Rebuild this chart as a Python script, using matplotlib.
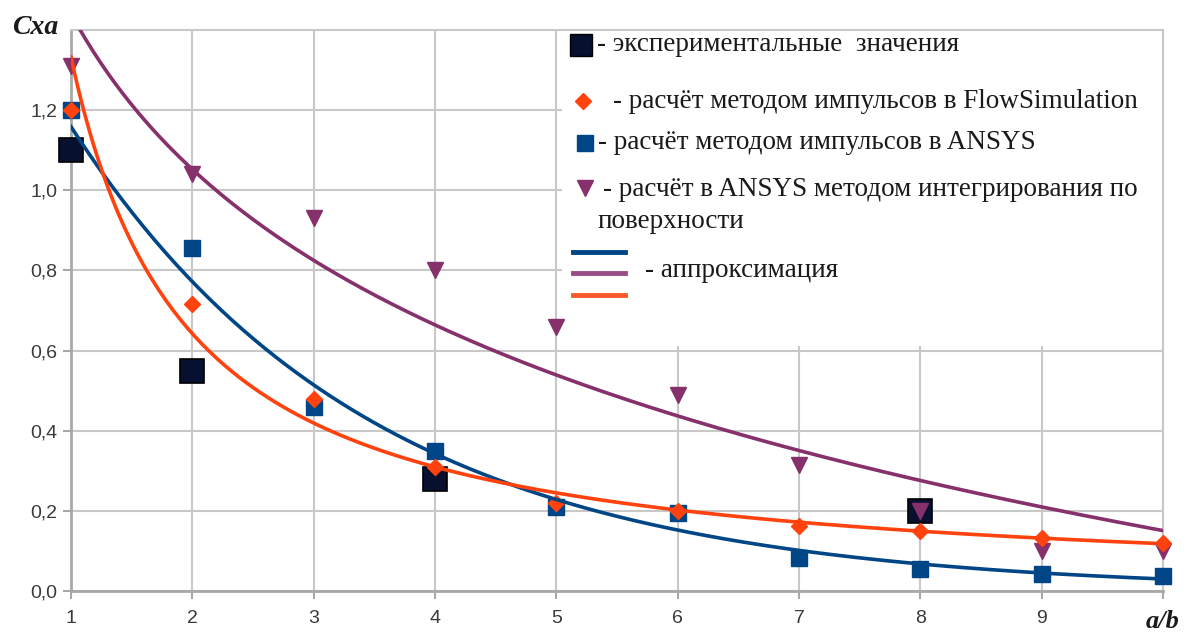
import numpy as np
import matplotlib.pyplot as plt
from matplotlib.patches import Rectangle

# a/b values
x_all = [1, 2, 3, 4, 5, 6, 7, 8, 9, 10]

# experimental values (only measured at a few a/b)
x_exp = [1, 2, 4, 8]
cx_exp = [1.10, 0.55, 0.28, 0.20]

# momentum method in FlowSimulation
cx_flow = [1.20, 0.715, 0.48, 0.31, 0.22, 0.20, 0.163, 0.15, 0.133, 0.12]

# momentum method in ANSYS
cx_ansys = [1.20, 0.855, 0.46, 0.35, 0.21, 0.195, 0.083, 0.055, 0.043, 0.038]

# ANSYS, surface integration
cx_surf = [1.31, 1.04, 0.93, 0.80, 0.66, 0.49, 0.315, 0.20, 0.10, 0.10]

y_ticks = [0.0, 0.2, 0.4, 0.6, 0.8, 1.0, 1.2]
y_tick_labels = ['0,0', '0,2', '0,4', '0,6', '0,8', '1,0', '1,2']
x_tick_labels = ['1', '2', '3', '4', '5', '6', '7', '8', '9', 'a/b']

c_blue = '#004586'
c_orange = '#ff420e'
c_purple = '#86306c'

plt.rcParams['font.family'] = ['Liberation Sans', 'DejaVu Sans']

fig = plt.figure(figsize=(11.88, 6.33), dpi=100)
ax = fig.add_axes([71 / 1188, 42 / 633, 1092 / 1188, 561 / 633])

# approximation curves (regression on the data, like the spreadsheet trend lines)
xa = np.array(x_all, dtype=float)
xs = np.linspace(1, 10, 300)
kb = np.polyfit(xa, np.log(cx_ansys), 1)
ko = np.polyfit(np.log(xa), np.log(cx_flow), 1)
kp = np.polyfit(np.log(xa), cx_surf, 1)

ax.plot(x_exp, cx_exp, ls='none', marker='s', ms=17, mfc='#07102e', mec='#000000', mew=1.2, zorder=3, clip_on=False)
ax.plot(x_all, cx_ansys, ls='none', marker='s', ms=11.5, color=c_blue, zorder=4, clip_on=False)
ax.plot(x_all, cx_surf, ls='none', marker='v', ms=11, color=c_purple, zorder=5, clip_on=False)
ax.plot(x_all, cx_flow, ls='none', marker='D', ms=8.5, color=c_orange, zorder=6, clip_on=False)

ax.plot(xs, np.exp(np.polyval(kb, xs)), color=c_blue, lw=2.6, zorder=7)
ax.plot(xs, np.polyval(kp, np.log(xs)), color=c_purple, lw=2.6, zorder=7)
ax.plot(xs, np.exp(np.polyval(ko, np.log(xs))), color=c_orange, lw=2.6, zorder=7)

ax.set_xlim(1, 10)
ax.set_ylim(0, 1.4)
ax.set_xticks(x_all)
ax.set_xticklabels(x_tick_labels)
ax.set_yticks(y_ticks)
ax.set_yticklabels(y_tick_labels)
ax.tick_params(labelsize=14, labelcolor='#3a3a3a', color='#a8a8a8', length=6, width=1.5)
ax.tick_params(axis='x', pad=8)
ax.tick_params(axis='y', pad=4)
lab = ax.get_xticklabels()[-1]
lab.set_fontfamily('Liberation Serif')
lab.set_fontweight('bold')
lab.set_fontstyle('italic')
lab.set_fontsize(19)
lab.set_color('#1a1a1a')

ax.set_axisbelow(True)
ax.grid(True, color='#c8c8c8', lw=1.5)
for s in ['left', 'bottom']:
    ax.spines[s].set_color('#a8a8a8')
    ax.spines[s].set_linewidth(2)
for s in ['top', 'right']:
    ax.spines[s].set_color('#c8c8c8')
    ax.spines[s].set_linewidth(1.5)

fig.text(12 / 1188, 1 - 28 / 633, 'Cxa', family='Liberation Serif', weight='bold', style='italic',
         fontsize=20, va='center', ha='left', color='#1a1a1a')

# legend panel (white box over the grid)
ax.add_patch(Rectangle((0.4497, 0.437), 0.549, 0.562, transform=ax.transAxes,
                       facecolor='white', edgecolor='none', zorder=1))

tk = dict(transform=ax.transAxes, family='Liberation Serif', fontsize=19.5, color='#1a1a1a',
          va='center', ha='left', zorder=8)
ax.plot([0.467], [0.973], transform=ax.transAxes, marker='s', ms=16, mfc='#07102e', mec='#000000', clip_on=False, zorder=8)
ax.text(0.482, 0.975, '- экспериментальные  значения', **tk)
ax.plot([0.469], [0.873], transform=ax.transAxes, marker='D', ms=8, color=c_orange, clip_on=False, zorder=8)
ax.text(0.496, 0.873, '- расчёт методом импульсов в FlowSimulation', **tk)
ax.plot([0.471], [0.799], transform=ax.transAxes, marker='s', ms=11, color=c_blue, clip_on=False, zorder=8)
ax.text(0.483, 0.800, '- расчёт методом импульсов в ANSYS', **tk)
ax.plot([0.471], [0.718], transform=ax.transAxes, marker='v', ms=11, color=c_purple, clip_on=False, zorder=8)
ax.text(0.487, 0.716, '- расчёт в ANSYS методом интегрирования по', **tk)
ax.text(0.482, 0.658, 'поверхности', **tk)
ax.plot([0.460, 0.507], [0.604, 0.604], transform=ax.transAxes, color=c_blue, lw=3.5, zorder=8)
ax.plot([0.460, 0.507], [0.567, 0.567], transform=ax.transAxes, color='#9a4c86', lw=3.5, zorder=8)
ax.plot([0.460, 0.507], [0.528, 0.528], transform=ax.transAxes, color='#ff5a2a', lw=3.5, zorder=8)
ax.text(0.526, 0.571, '- аппроксимация', **tk)

fig.savefig('out.png', dpi=100)
